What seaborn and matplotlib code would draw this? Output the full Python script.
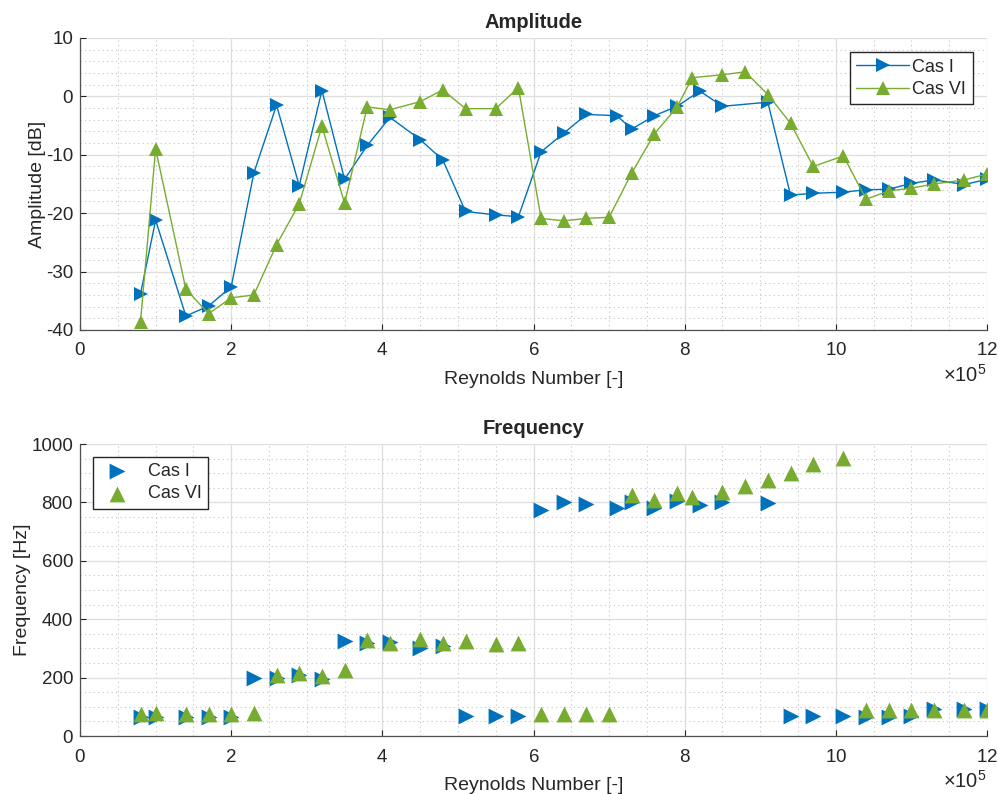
import matplotlib
matplotlib.use("Agg")
import matplotlib.pyplot as plt
import seaborn as sns
from matplotlib.ticker import MultipleLocator

# Amplitude data (Reynolds number, dB)
re_cas1 = [0.8, 1.0, 1.4, 1.7, 2.0, 2.3, 2.6, 2.9, 3.2, 3.5, 3.8, 4.1, 4.5, 4.8, 5.1, 5.5, 5.8, 6.1,
           6.4, 6.7, 7.1, 7.3, 7.6, 7.9, 8.2, 8.5, 9.1, 9.4, 9.7, 10.1, 10.4, 10.7, 11.0, 11.3, 11.7, 12.0]
amp_cas1 = [-33.8, -21.2, -37.6, -35.9, -32.6, -13.1, -1.5, -15.3, 1.0, -14.2, -8.4, -3.6, -7.4, -10.9,
            -19.7, -20.3, -20.6, -9.5, -6.3, -3.1, -3.3, -5.6, -3.3, -1.7, 0.9, -1.7, -1.0, -16.9,
            -16.6, -16.4, -16.0, -15.9, -14.9, -14.3, -15.1, -14.2]

re_cas6 = [0.8, 1.0, 1.4, 1.7, 2.0, 2.3, 2.6, 2.9, 3.2, 3.5, 3.8, 4.1, 4.5, 4.8, 5.1, 5.5, 5.8, 6.1,
           6.4, 6.7, 7.0, 7.3, 7.6, 7.9, 8.1, 8.5, 8.8, 9.1, 9.4, 9.7, 10.1, 10.4, 10.7, 11.0, 11.3, 11.7, 12.0]
amp_cas6 = [-38.6, -9.0, -33.0, -37.2, -34.5, -34.0, -25.4, -18.4, -5.1, -18.3, -1.8, -2.3, -0.9, 1.1,
            -2.1, -2.1, 1.5, -20.9, -21.3, -20.9, -20.7, -13.1, -6.4, -1.8, 3.2, 3.7, 4.2, 0.3,
            -4.6, -12.0, -10.2, -17.6, -16.2, -15.7, -15.0, -14.3, -13.3]

# Frequency data (Hz)
freq_cas1 = [65, 66, 65, 65, 65, 199, 199, 210, 197, 325, 320, 321, 300, 308, 68, 68, 68, 774,
             800, 794, 780, 803, 782, 805, 791, 803, 799, 68, 68, 68, 65, 65, 68, 94, 94, 94]
freq_cas6 = [77, 79, 77, 77, 77, 79, 210, 217, 205, 225, 328, 317, 331, 317, 326, 314, 319, 74,
             74, 74, 74, 825, 808, 831, 820, 837, 857, 877, 902, 932, 951, 90, 90, 90, 90, 90, 90]

re_cas1 = [v * 1e5 for v in re_cas1]
re_cas6 = [v * 1e5 for v in re_cas6]

blue = "#0072BD"
green = "#77AC30"

sns.set_style("ticks")
plt.rcParams["font.family"] = ["Liberation Sans", "DejaVu Sans"]
plt.rcParams["axes.unicode_minus"] = False
plt.rcParams["mathtext.default"] = "regular"

fig = plt.figure(figsize=(9.98, 7.94), dpi=100)
ax1 = fig.add_axes([0.0802, 0.5844, 0.9088, 0.3678])
ax2 = fig.add_axes([0.0802, 0.0730, 0.9088, 0.3678])

# Top: amplitude
sns.lineplot(x=re_cas1, y=amp_cas1, ax=ax1, color=blue, marker=">", markersize=9.5,
             markeredgewidth=0, linewidth=1.0, label="Cas I", sort=False)
sns.lineplot(x=re_cas6, y=amp_cas6, ax=ax1, color=green, marker="^", markersize=9.5,
             markeredgewidth=0, linewidth=1.0, label="Cas VI", sort=False)
ax1.set_ylim(-40, 10)
ax1.yaxis.set_major_locator(MultipleLocator(10))
ax1.yaxis.set_minor_locator(MultipleLocator(2))
ax1.set_ylabel("Amplitude [dB]", fontsize=14, color="#262626", labelpad=0)
ax1.set_title("Amplitude", fontsize=14.5, fontweight="bold", pad=7)
ax1.legend(loc="upper right", fontsize=13, frameon=True, fancybox=False, framealpha=1,
           edgecolor="#262626", borderaxespad=0.8, handlelength=2.9, handletextpad=0.2,
           borderpad=0.35, labelspacing=0.3)

# Bottom: frequency
sns.scatterplot(x=re_cas1, y=freq_cas1, ax=ax2, color=blue, marker=">", s=130,
                linewidth=0, label="Cas I")
sns.scatterplot(x=re_cas6, y=freq_cas6, ax=ax2, color=green, marker="^", s=130,
                linewidth=0, label="Cas VI")
ax2.set_ylim(0, 1000)
ax2.yaxis.set_major_locator(MultipleLocator(200))
ax2.yaxis.set_minor_locator(MultipleLocator(50))
ax2.set_ylabel("Frequency [Hz]", fontsize=14, color="#262626", labelpad=0)
ax2.set_title("Frequency", fontsize=14.5, fontweight="bold", pad=7)
ax2.legend(loc="upper left", fontsize=13, frameon=True, fancybox=False, framealpha=1,
           edgecolor="#262626", borderaxespad=0.7, handlelength=2.0, handletextpad=0.7,
           borderpad=0.35, labelspacing=0.3)

for ax in (ax1, ax2):
    ax.set_xlim(0, 12e5)
    ax.xaxis.set_major_locator(MultipleLocator(2e5))
    ax.xaxis.set_minor_locator(MultipleLocator(0.5e5))
    ax.ticklabel_format(style="sci", axis="x", scilimits=(5, 5), useMathText=True)
    ax.xaxis.get_offset_text().set_fontsize(14.5)
    ax.xaxis.get_offset_text().set_color("#262626")
    ax.set_xlabel("Reynolds Number [-]", fontsize=14, color="#262626", labelpad=8)
    ax.grid(which="major", color="#dedede", linewidth=0.9, linestyle="-")
    ax.grid(which="minor", color="#c4c4c4", linewidth=0.8, linestyle=(0, (1, 3)))
    ax.set_axisbelow(True)
    ax.tick_params(which="major", direction="in", length=4, width=0.8, labelsize=13.5,
                   colors="#262626", top=False, right=False)
    ax.tick_params(axis="x", which="major", pad=9)
    ax.tick_params(axis="y", which="major", pad=5)
    ax.tick_params(which="minor", length=0)
    for side in ("top", "right"):
        ax.spines[side].set_visible(False)
    for side in ("left", "bottom"):
        ax.spines[side].set_color("#505050")
        ax.spines[side].set_linewidth(0.9)

fig.savefig("out.png", dpi=100)
